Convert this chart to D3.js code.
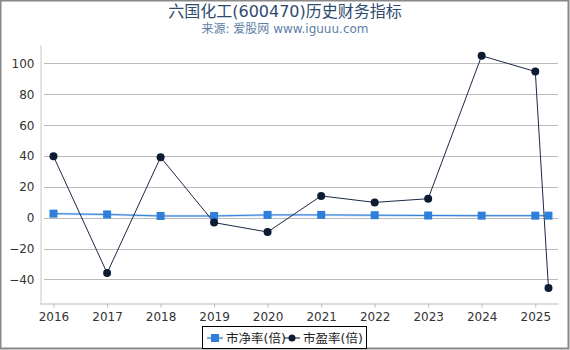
<!DOCTYPE html>
<meta charset="utf-8">
<title>六国化工历史财务指标</title>
<style>
	body { margin: 0; background: #fff; }
	svg { display: block; font-family: "DejaVu Sans", "Noto Sans CJK SC", sans-serif; }
</style>
<body>
<div id="chart"></div>
<script src="https://d3js.org/d3.v7.min.js"></script>
<script>
// data
var dates = ["2016-01-01", "2017-01-01", "2018-01-01", "2019-01-01", "2020-01-01",
	"2021-01-01", "2022-01-01", "2023-01-01", "2024-01-01", "2025-01-01", "2025-04-01"];
var pbValues = [2.6, 2.1, 1.1, 1.1, 1.8, 1.8, 1.6, 1.4, 1.3, 1.3, 1.3];
var peValues = [39.8, -35.9, 39.2, -3.2, -9.3, 14.1, 9.9, 12.3, 105, 94.8, -45.6];
var yTicks = [-40, -20, 0, 20, 40, 60, 80, 100];
var tickYears = [2016, 2017, 2018, 2019, 2020, 2021, 2022, 2023, 2024, 2025];
var seriesNames = ["市净率(倍)", "市盈率(倍)"];

var width = 570, height = 350;
var margin = { top: 45, right: 12, bottom: 46, left: 40 };

var svg = d3.select("#chart").append("svg")
	.attr("width", width)
	.attr("height", height);

// outer border
svg.append("rect")
	.attr("x", 0.5).attr("y", 0.5)
	.attr("width", width - 2).attr("height", height - 2)
	.attr("fill", "#fff")
	.attr("stroke", "#888").attr("stroke-width", 2);

// titles
svg.append("text")
	.attr("x", 285).attr("y", 17)
	.attr("text-anchor", "middle")
	.attr("font-size", 16)
	.attr("fill", "#2e4b6e")
	.text("六国化工(600470)历史财务指标");
svg.append("text")
	.attr("x", 285).attr("y", 33)
	.attr("text-anchor", "middle")
	.attr("font-size", 12)
	.attr("fill", "#5d7ea8")
	.text("来源: 爱股网 www.iguuu.com");

var parse = d3.timeParse("%Y-%m-%d");
var pts = dates.map(function (d, i) {
	return { date: parse(d), pb: pbValues[i], pe: peValues[i] };
});

var x = d3.scaleTime()
	.domain([new Date(2015, 9, 1), new Date(2025, 5, 5)])
	.range([margin.left, width - margin.right]);

var y = d3.scaleLinear()
	.domain([-56, 112])
	.range([height - margin.bottom, margin.top]);

// grid
svg.append("g")
	.selectAll("line")
	.data(yTicks)
	.enter().append("line")
	.attr("x1", margin.left + 4).attr("x2", width - margin.right)
	.attr("y1", function (d) { return Math.round(y(d)) + 0.5; })
	.attr("y2", function (d) { return Math.round(y(d)) + 0.5; })
	.attr("stroke", "#bbb").attr("stroke-width", 1);

// y axis
var yAxis = svg.append("g")
	.attr("transform", "translate(" + (margin.left + 0.5) + ",0)")
	.call(d3.axisLeft(y).tickValues(yTicks).tickSize(0).tickPadding(6));
yAxis.select(".domain").attr("stroke", "#c8c8c8");
yAxis.selectAll("text").attr("font-size", 12).attr("fill", "#333")
	.attr("font-family", "DejaVu Sans, sans-serif");

// x axis
var xAxis = svg.append("g")
	.attr("transform", "translate(0," + (height - margin.bottom - 0.5) + ")")
	.call(d3.axisBottom(x)
		.tickValues(tickYears.map(function (yr) { return new Date(yr, 0, 1); }))
		.tickFormat(d3.timeFormat("%Y"))
		.tickSize(4).tickSizeOuter(0).tickPadding(5));
xAxis.select(".domain").attr("stroke", "#bbb");
xAxis.selectAll(".tick line").attr("stroke", "#bbb");
xAxis.selectAll("text").attr("font-size", 12).attr("fill", "#333")
	.attr("font-family", "DejaVu Sans, sans-serif");

// PB line (blue with light halo)
var pbLine = d3.line()
	.x(function (d) { return x(d.date); })
	.y(function (d) { return y(d.pb); });
svg.append("path").datum(pts)
	.attr("d", pbLine).attr("fill", "none")
	.attr("stroke", "#c3daf3").attr("stroke-width", 2.5);
svg.append("path").datum(pts)
	.attr("d", pbLine).attr("fill", "none")
	.attr("stroke", "#2f7ed8").attr("stroke-width", 1);

// PE line
var peLine = d3.line()
	.x(function (d) { return x(d.date); })
	.y(function (d) { return y(d.pe); });
svg.append("path").datum(pts)
	.attr("d", peLine).attr("fill", "none")
	.attr("stroke", "#1b2a44").attr("stroke-width", 1);

svg.append("g").selectAll("rect")
	.data(pts).enter().append("rect")
	.attr("x", function (d) { return x(d.date) - 4; })
	.attr("y", function (d) { return y(d.pb) - 4; })
	.attr("width", 8).attr("height", 8)
	.attr("fill", "#2f7ed8");

svg.append("g").selectAll("circle")
	.data(pts).enter().append("circle")
	.attr("cx", function (d) { return x(d.date); })
	.attr("cy", function (d) { return y(d.pe); })
	.attr("r", 4)
	.attr("fill", "#0d1b33");

// legend
var legend = svg.append("g").attr("transform", "translate(202,326)");
legend.append("rect")
	.attr("x", 0.5).attr("y", 0.5)
	.attr("width", 164).attr("height", 22)
	.attr("fill", "#fff").attr("stroke", "#000").attr("stroke-width", 1);

var items = [
	{ name: seriesNames[0], color: "#2f7ed8", halo: "#c3daf3", shape: "square", x: 5 },
	{ name: seriesNames[1], color: "#0d1b33", halo: null, shape: "circle", x: 82 }
];
items.forEach(function (it) {
	var g = legend.append("g").attr("transform", "translate(" + it.x + ",12)");
	if (it.halo) {
		g.append("line").attr("x1", 0).attr("x2", 16).attr("stroke", it.halo).attr("stroke-width", 2.5);
	}
	g.append("line").attr("x1", 0).attr("x2", 16).attr("stroke", it.color).attr("stroke-width", 1);
	if (it.shape === "square") {
		g.append("rect").attr("x", 4).attr("y", -4).attr("width", 8).attr("height", 8).attr("fill", it.color);
	} else {
		g.append("circle").attr("cx", 8).attr("r", 3.5).attr("fill", it.color);
	}
	g.append("text")
		.attr("x", 19).attr("y", 5)
		.attr("font-size", 12.5).attr("fill", "#222")
		.text(it.name);
});
</script>
</body>
